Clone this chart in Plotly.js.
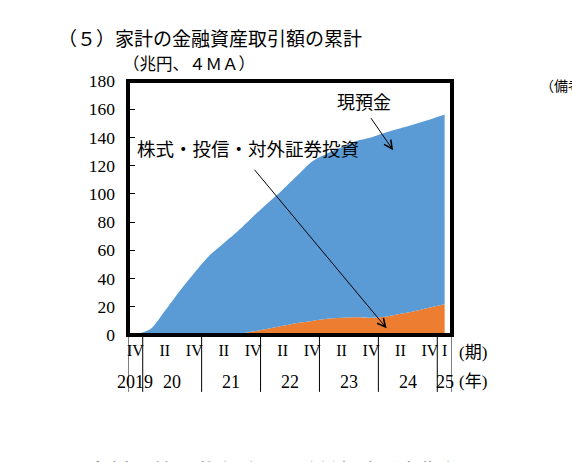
<!DOCTYPE html>
<html>
<head>
<meta charset="utf-8">
<script src="https://cdn.plot.ly/plotly-3.0.1.min.js"></script>
<style>
  html, body { margin: 0; padding: 0; background: #fff; }
  #chart { width: 572px; height: 462px; }
</style>
</head>
<body>
<div id="chart"></div>
<script>
// quarters 2019Q4 .. 2025Q1
const periods = ['2019Q4',
  '2020Q1', '2020Q2', '2020Q3', '2020Q4',
  '2021Q1', '2021Q2', '2021Q3', '2021Q4',
  '2022Q1', '2022Q2', '2022Q3', '2022Q4',
  '2023Q1', '2023Q2', '2023Q3', '2023Q4',
  '2024Q1', '2024Q2', '2024Q3', '2024Q4',
  '2025Q1'];
const quarterLabels = ['IV', '', 'II', '', 'IV', '', 'II', '', 'IV', '', 'II', '',
  'IV', '', 'II', '', 'IV', '', 'II', '', 'IV', 'I'];
const yearLabels = ['2019', '20', '21', '22', '23', '24', '25'];
const yearCounts = [1, 4, 4, 4, 4, 4, 1];

// cumulative, trillion yen (4-quarter moving average)
const securities = [0, 0, 0, 0, 0, 0, 0.3, 1, 2.5, 4.5, 6.5, 8.5,
  10, 11.5, 12.3, 12.6, 12.3, 13, 15, 17, 19.5, 21.8];
const deposits = [0.5, 4, 17, 31, 44, 56, 64.7, 73, 81.5, 89, 96.5, 104.5,
  113, 117, 120.7, 124.9, 127.7, 130.5, 131.5, 132.5, 133.3, 134.5];

const serif = 'Liberation Serif, Noto Sans CJK JP, serif';
const jp = 'Noto Sans CJK JP, sans-serif';
const xs = periods.map((_, i) => i);

const traces = [
  {
    x: xs, y: securities, name: '株式・投信・対外証券投資',
    type: 'scatter', mode: 'lines', stackgroup: 'one',
    line: { width: 0, color: '#ED7D31', shape: 'spline', smoothing: 0.8 }, fillcolor: '#ED7D31'
  },
  {
    x: xs, y: deposits, name: '現預金',
    type: 'scatter', mode: 'lines', stackgroup: 'one',
    line: { width: 0, color: '#5B9BD5', shape: 'spline', smoothing: 0.8 }, fillcolor: '#5B9BD5'
  }
];

// year group boundaries and centres
const shapes = [];
const annotations = [];
let start = 0;
shapes.push({ type: 'line', xref: 'x', yref: 'paper', x0: -0.5, x1: -0.5, y0: 0, y1: -0.224,
  line: { color: '#000', width: 1 } });
yearLabels.forEach((yl, k) => {
  const end = start + yearCounts[k];
  shapes.push({ type: 'line', xref: 'x', yref: 'paper', x0: end - 0.5, x1: end - 0.5, y0: 0, y1: -0.224,
    line: { color: '#000', width: 1 } });
  annotations.push({ xref: 'x', yref: 'paper', x: (start + end - 1) / 2, y: -0.185, yanchor: 'middle',
    text: yl, showarrow: false, font: { family: serif, size: 18, color: '#000' } });
  start = end;
});

// plot frame
shapes.push({ type: 'rect', xref: 'paper', yref: 'paper', x0: 0, x1: 1, y0: 0, y1: 1,
  line: { color: '#000', width: 4 } });

annotations.push(
  { xref: 'paper', yref: 'paper', x: 1.015, y: -0.067, xanchor: 'left', yanchor: 'middle', text: '(期)',
    showarrow: false, font: { family: serif, size: 17, color: '#000' } },
  { xref: 'paper', yref: 'paper', x: 1.015, y: -0.185, xanchor: 'left', yanchor: 'middle', text: '(年)',
    showarrow: false, font: { family: serif, size: 17, color: '#000' } },
  { xref: 'paper', yref: 'paper', x: -0.022, y: 1.063, xanchor: 'left', yanchor: 'middle', text: '（兆円、４ＭＡ）',
    showarrow: false, font: { family: serif, size: 16.5, color: '#000' } },
  { xref: 'paper', yref: 'paper', x: 1.265, y: 0.984, xanchor: 'left', yanchor: 'middle', text: '（備考）',
    showarrow: false, font: { family: jp, size: 14, color: '#000' } },
  { xref: 'paper', yref: 'paper', x: -0.2, y: -0.46, xanchor: 'left', yanchor: 'top',
    text: '（食料品等の物価上昇の継続が、消費者マインド',
    showarrow: false, font: { family: jp, size: 22, color: '#000' } },
  // labels and arrows
  { xref: 'x', yref: 'y', x: 15.5, y: 165.8, text: '現預金',
    showarrow: false, font: { family: jp, size: 18, color: '#000' } },
  { xref: 'x', yref: 'y', x: 17.5, y: 131, axref: 'x', ayref: 'y', ax: 15.93, ay: 154.7,
    text: '', showarrow: true, arrowhead: 5, arrowsize: 1.6, arrowwidth: 1, arrowcolor: '#000' },
  { xref: 'x', yref: 'y', x: -0.05, y: 132.2, xanchor: 'left', text: '株式・投信・対外証券投資',
    showarrow: false, font: { family: jp, size: 18.5, color: '#000' } },
  { xref: 'x', yref: 'y', x: 17.06, y: 4.75, axref: 'x', ayref: 'y', ax: 8.01, ay: 118.1,
    text: '', showarrow: true, arrowhead: 5, arrowsize: 1.6, arrowwidth: 1, arrowcolor: '#000' }
);

const tickIdx = xs.filter(i => quarterLabels[i] !== '');

const layout = {
  width: 572, height: 462,
  margin: { l: 128, r: 120, t: 81, b: 127 },
  paper_bgcolor: '#fff', plot_bgcolor: '#fff',
  showlegend: false,
  title: {
    text: '（５）家計の金融資産取引額の累計',
    x: 58 / 572, xanchor: 'left', y: 1 - 39 / 462, yanchor: 'middle',
    font: { family: jp, size: 19, color: '#000' }
  },
  xaxis: {
    type: 'linear', range: [-0.5, 21.5],
    tickvals: tickIdx, ticktext: tickIdx.map(i => quarterLabels[i]),
    ticks: '', showgrid: false, zeroline: false, showline: false,
    ticklabelstandoff: 4,
    tickfont: { family: serif, size: 16, color: '#000' }
  },
  yaxis: {
    range: [0, 180], dtick: 20,
    ticks: 'inside', ticklen: 7, tickwidth: 1, tickcolor: '#000',
    showgrid: false, zeroline: false, showline: false,
    ticklabelstandoff: 12,
    tickfont: { family: serif, size: 17.5, color: '#000' }
  },
  shapes: shapes,
  annotations: annotations
};

Plotly.newPlot('chart', traces, layout, { staticPlot: true, displayModeBar: false });
</script>
</body>
</html>
